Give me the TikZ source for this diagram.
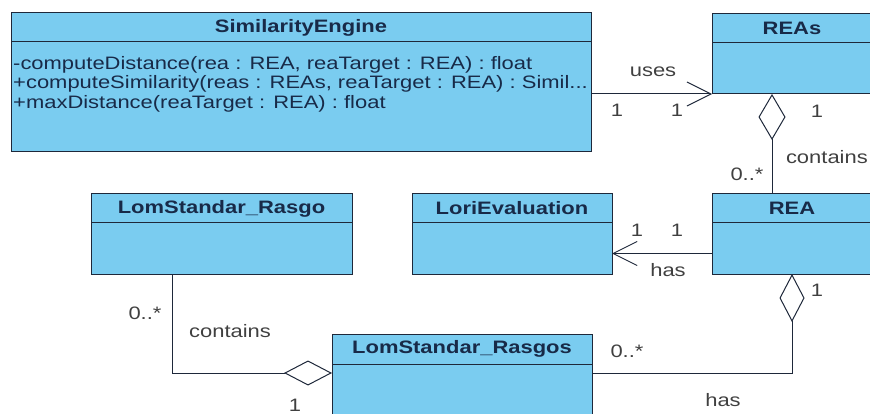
\documentclass[tikz,border=0pt]{standalone}
\usepackage{fontspec}
\setmainfont{Liberation Sans}[FakeStretch=1.22]
\usepackage{xcolor}
\definecolor{umlfill}{RGB}{122,204,240}
\definecolor{umlline}{RGB}{30,40,58}
\definecolor{umltext}{RGB}{24,42,72}
\definecolor{labeltext}{RGB}{64,64,64}
\usetikzlibrary{calc}
\usetikzlibrary{arrows.meta}
\newcommand{\umlsize}{\fontsize{18pt}{19.5pt}\selectfont}
\newcommand{\heightclass}{29pt}
\newcommand{\widthrea}{160pt}
\tikzset{
    common/.style={draw=umlline, fill=umlfill, rectangle, line width=1pt, inner sep=0pt, outer sep=0pt},
    head/.style={common, anchor=north west, minimum height=\heightclass, font=\umlsize\bfseries, text=umltext},
    body/.style={common, anchor=north},
    ops/.style={anchor=north west, align=left, inner sep=0pt, font=\umlsize, text=umltext},
    mult/.style={inner sep=0pt, font=\umlsize, text=labeltext},
    assoc/.style={draw=umlline, line width=1pt},
    navig/.style={assoc, -{Straight Barb[length=24pt, width=24pt, line width=1pt]}},
    aggr/.style={assoc, {Diamond[open, length=46pt, width=27pt, line width=1pt]}-},
    aggr-wide/.style={assoc, {Diamond[open, length=48pt, width=25pt, line width=1pt]}-}
}
\begin{document}
\begin{tikzpicture}[x=1pt, y=-1pt]
    \useasboundingbox (0,0) rectangle (870,414);
    \clip (0,0) rectangle (870,414);

    % classes
    \node[head, minimum width=580pt] (se) at (11,13) {SimilarityEngine};
    \node[body, minimum width=580pt, minimum height=110pt] (se-body) at (se.south) {};
    \node[ops] (se-ops) at ($(se-body.north west)+(2,14)$)
        {-computeDistance(rea : REA, reaTarget : REA) : float\\
         +computeSimilarity(reas : REAs, reaTarget : REA) : Simil...\\
         +maxDistance(reaTarget : REA) : float};

    \node[head, minimum width=\widthrea] (reas) at (712,14) {REAs};
    \node[body, minimum width=\widthrea, minimum height=51pt] (reas-body) at (reas.south) {};

    \node[head, minimum width=\widthrea] (rea) at (712,194) {REA};
    \node[body, minimum width=\widthrea, minimum height=51pt] (rea-body) at (rea.south) {};

    \node[head, minimum width=200pt] (lori) at (412,194) {LoriEvaluation};
    \node[body, minimum width=200pt, minimum height=51pt] (lori-body) at (lori.south) {};

    \node[head, minimum width=261pt] (rasgo) at (91,194) {LomStandar\_Rasgo};
    \node[body, minimum width=261pt, minimum height=51pt] (rasgo-body) at (rasgo.south) {};

    \node[head, minimum width=260pt, minimum height=30pt] (rasgos) at (332,334) {LomStandar\_Rasgos};
    \node[body, minimum width=260pt, minimum height=80pt] (rasgos-body) at (rasgos.south) {};

    % connectors
    \draw[navig] (se-body.east |- reas-body.south) -- (reas-body.south west);
    \draw[aggr] ($(reas-body.south west)+(60,0)$) -- ($(rea.north west)+(60,0)$);
    \draw[navig] ($(rea-body.west)+(0,5)$) coordinate (has-lori) -- (has-lori -| lori-body.east);
    \draw[aggr-wide] ($(rea-body.south west)+(80,0)$) |- ($(rasgos-body.north east)+(0,9)$);
    \draw[aggr-wide] ($(rasgos-body.north west)+(0,9)$) -| ($(rasgo-body.south west)+(81,0)$);

    % labels
    \node[mult] (uses) at (653,72) {uses};
    \node[mult] (uses-a) at (617,110) {1};
    \node[mult] (uses-b) at (677,110) {1};
    \node[mult] (contains-a) at (817,111) {1};
    \node[mult, anchor=east] (contains) at (868,157) {contains};
    \node[mult] (contains-b) at (747,174) {0..*};
    \node[mult] (has-a) at (637,230) {1};
    \node[mult] (has-b) at (677,230) {1};
    \node[mult] (has) at (668,270) {has};
    \node[mult] (has2-a) at (817,290) {1};
    \node[mult] (has2-b) at (627,351) {0..*};
    \node[mult] (has2) at (723,400) {has};
    \node[mult] (contains2-a) at (145,313) {0..*};
    \node[mult] (contains2) at (230,331) {contains};
    \node[mult] (contains2-b) at (295,405) {1};
\end{tikzpicture}
\end{document}
